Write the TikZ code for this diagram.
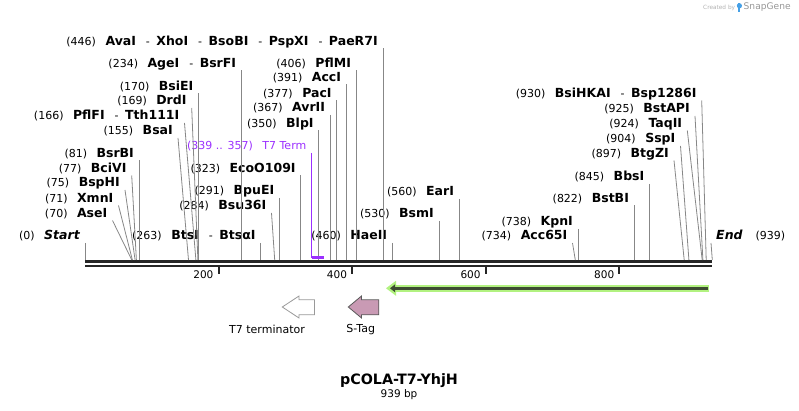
\documentclass[tikz,border=0pt]{standalone}
\usepackage{fontspec}
\setmainfont{DejaVu Sans}
\usepackage{tikz}
\usetikzlibrary{arrows.meta,positioning}
\definecolor{cutgray}{RGB}{135,135,135}
\definecolor{bbdark}{RGB}{38,38,38}
\definecolor{termpurple}{RGB}{155,48,255}
\definecolor{featlight}{RGB}{178,242,128}
\definecolor{featdark}{RGB}{62,76,50}
\definecolor{stagpink}{RGB}{201,154,180}
\definecolor{wmgray}{RGB}{178,178,178}
\definecolor{snapblue}{RGB}{70,160,230}
\newcommand{\rsname}[1]{{\fontsize{12.5}{13}\selectfont\bfseries #1}}
\newcommand{\rsgap}{\hspace{9.5pt}}
\newcommand{\rsdash}{\hspace{10pt}-\hspace{6.5pt}}
\tikzset{enz/.style={inner xsep=5pt, inner ysep=0pt, text height=9pt, text depth=3pt, anchor=south east}, cut/.style={draw=cutgray, line width=0.8pt}, axtick/.style={draw=bbdark, line width=2pt}, ticklbl/.style={inner sep=0pt, anchor=east, font=\fontsize{10.5}{12}\selectfont}}

\begin{document}
\begin{tikzpicture}[x=1pt, y=-1pt, every node/.style={font=\fontsize{11}{13}\selectfont}]
\useasboundingbox (0,0) rectangle (799,411);
% backbone
\coordinate (bbL) at (85,261.8);
\coordinate (bbR) at (712.3,261.8);
\coordinate (bbL2) at (85,266);
\coordinate (bbR2) at (712.3,266);
\draw[line width=3pt, bbdark] (bbL) -- (bbR);
\draw[line width=2.5pt, bbdark] (bbL2) -- (bbR2);
% ruler
\draw[axtick] (218.6,267) -- (218.6,274.3);
\draw[axtick] (352.2,267) -- (352.2,274.3);
\draw[axtick] (485.8,267) -- (485.8,274.3);
\draw[axtick] (619.4,267) -- (619.4,274.3);
\node[ticklbl] (n200) at (213.6,275) {200};
\node[ticklbl] (n400) at (347.2,275) {400};
\node[ticklbl] (n600) at (480.8,275) {600};
\node[ticklbl] (n800) at (614.4,275) {800};
% cut sites on the backbone
\coordinate (s0) at (85,260);
\coordinate (s70) at (131.8,260);
\coordinate (s71) at (132.4,260);
\coordinate (s75) at (135.1,260);
\coordinate (s77) at (136.4,260);
\coordinate (s81) at (139.1,260);
\coordinate (s155) at (188.5,260);
\coordinate (s166) at (195.9,260);
\coordinate (s169) at (197.9,260);
\coordinate (s170) at (198.6,260);
\coordinate (s234) at (241.3,260);
\coordinate (s263) at (260.7,260);
\coordinate (s284) at (274.7,260);
\coordinate (s291) at (279.4,260);
\coordinate (s323) at (300.8,260);
\coordinate (s350) at (318.8,260);
\coordinate (s367) at (330.2,260);
\coordinate (s377) at (336.8,260);
\coordinate (s391) at (346.2,260);
\coordinate (s406) at (356.2,260);
\coordinate (s446) at (382.9,260);
\coordinate (s460) at (392.3,260);
\coordinate (s530) at (439.0,260);
\coordinate (s560) at (459.1,260);
\coordinate (s734) at (575.3,260);
\coordinate (s738) at (578.0,260);
\coordinate (s822) at (634.1,260);
\coordinate (s845) at (649.5,260);
\coordinate (s897) at (684.2,260);
\coordinate (s904) at (688.9,260);
\coordinate (s924) at (702.2,260);
\coordinate (s925) at (702.9,260);
\coordinate (s930) at (706.2,260);
\coordinate (s939) at (712.3,260);
% enzyme labels, left half
\node[enz] (avaI) at (382.9,48.5) {(446)\rsgap\rsname{AvaI}\rsdash\rsname{XhoI}\rsdash\rsname{BsoBI}\rsdash\rsname{PspXI}\rsdash\rsname{PaeR7I}};
\node[enz] (ageI) at (241.3,70.5) {(234)\rsgap\rsname{AgeI}\rsdash\rsname{BsrFI}};
\node[enz] (pflMI) at (356.2,70.5) {(406)\rsgap\rsname{PflMI}};
\node[enz] (accI) at (346.2,84.5) {(391)\rsgap\rsname{AccI}};
\node[enz] (bsiEI) at (198.6,93.5) {(170)\rsgap\rsname{BsiEI}};
\node[enz] (pacI) at (336.8,100.5) {(377)\rsgap\rsname{PacI}};
\node[enz] (drdI) at (191.7,108) {(169)\rsgap\rsname{DrdI}};
\node[enz] (avrII) at (330.2,115) {(367)\rsgap\rsname{AvrII}};
\node[enz] (pflFI) at (184.5,123) {(166)\rsgap\rsname{PflFI}\rsdash\rsname{Tth111I}};
\node[enz] (blpI) at (318.8,130.5) {(350)\rsgap\rsname{BlpI}};
\node[enz] (bsaI) at (178,138) {(155)\rsgap\rsname{BsaI}};
\node[enz, text=termpurple] (t7term) at (311.5,153) {(339 .. 357)\rsgap T7 Term};
\node[enz] (bsrBI) at (139.1,160.5) {(81)\rsgap\rsname{BsrBI}};
\node[enz] (bciVI) at (131.7,175.5) {(77)\rsgap\rsname{BciVI}};
\node[enz] (ecoO109I) at (300.8,175.5) {(323)\rsgap\rsname{EcoO109I}};
\node[enz] (bspHI) at (125,190) {(75)\rsgap\rsname{BspHI}};
\node[enz] (bpuEI) at (279.4,198) {(291)\rsgap\rsname{BpuEI}};
\node[enz] (xmnI) at (118.5,205.5) {(71)\rsgap\rsname{XmnI}};
\node[enz] (bsu36I) at (271.5,213) {(284)\rsgap\rsname{Bsu36I}};
\node[enz] (aseI) at (112.5,220.5) {(70)\rsgap\rsname{AseI}};
\node[enz] (start) at (85,243) {(0)\rsgap\rsname{\itshape Start}};
\node[enz] (btsI) at (260.7,243) {(263)\rsgap\rsname{BtsI}\rsdash\rsname{BtsαI}};
\node[enz] (haeII) at (392.3,243) {(460)\rsgap\rsname{HaeII}};
% enzyme labels, right half
\node[enz] (earI) at (459.1,199) {(560)\rsgap\rsname{EarI}};
\node[enz] (bsmI) at (439.0,221) {(530)\rsgap\rsname{BsmI}};
\node[enz] (kpnI) at (578.0,229) {(738)\rsgap\rsname{KpnI}};
\node[enz] (acc65I) at (572.5,243) {(734)\rsgap\rsname{Acc65I}};
\node[enz] (bstBI) at (634.1,205.5) {(822)\rsgap\rsname{BstBI}};
\node[enz] (bbsI) at (649.5,184) {(845)\rsgap\rsname{BbsI}};
\node[enz] (btgZI) at (674,160.5) {(897)\rsgap\rsname{BtgZI}};
\node[enz] (sspI) at (680.5,146) {(904)\rsgap\rsname{SspI}};
\node[enz] (taqII) at (687.3,130.5) {(924)\rsgap\rsname{TaqII}};
\node[enz] (bstAPI) at (695,116) {(925)\rsgap\rsname{BstAPI}};
\node[enz] (bsiHKAI) at (701.7,100.5) {(930)\rsgap\rsname{BsiHKAI}\rsdash\rsname{Bsp1286I}};
\node[enz, anchor=south west] (endlbl) at (711,243) {\rsname{\itshape End}\hspace{13pt}(939)};
% cut lines
\draw[cut] (avaI.south east) -- (s446);
\draw[cut] (ageI.south east) -- (s234);
\draw[cut] (pflMI.south east) -- (s406);
\draw[cut] (accI.south east) -- (s391);
\draw[cut] (bsiEI.south east) -- (s170);
\draw[cut] (pacI.south east) -- (s377);
\draw[cut] (drdI.south east) -- (s169);
\draw[cut] (avrII.south east) -- (s367);
\draw[cut] (pflFI.south east) -- (s166);
\draw[cut] (blpI.south east) -- (s350);
\draw[cut] (bsaI.south east) -- (s155);
\draw[cut] (bsrBI.south east) -- (s81);
\draw[cut] (bciVI.south east) -- (s77);
\draw[cut] (ecoO109I.south east) -- (s323);
\draw[cut] (bspHI.south east) -- (s75);
\draw[cut] (bpuEI.south east) -- (s291);
\draw[cut] (xmnI.south east) -- (s71);
\draw[cut] (bsu36I.south east) -- (s284);
\draw[cut] (aseI.south east) -- (s70);
\draw[cut] (start.south east) -- (s0);
\draw[cut] (btsI.south east) -- (s263);
\draw[cut] (haeII.south east) -- (s460);
\draw[cut] (earI.south east) -- (s560);
\draw[cut] (bsmI.south east) -- (s530);
\draw[cut] (kpnI.south east) -- (s738);
\draw[cut] (acc65I.south east) -- (s734);
\draw[cut] (bstBI.south east) -- (s822);
\draw[cut] (bbsI.south east) -- (s845);
\draw[cut] (btgZI.south east) -- (s897);
\draw[cut] (sspI.south east) -- (s904);
\draw[cut] (taqII.south east) -- (s924);
\draw[cut] (bstAPI.south east) -- (s925);
\draw[cut] (bsiHKAI.south east) -- (s930);
\draw[cut] (endlbl.south west) -- (s939);
% T7 terminator span
\coordinate (t7a) at (311.5,257.6);
\coordinate (t7b) at (323.5,257.6);
\draw[termpurple, line width=1pt] (t7term.south east) -- (t7a);
\draw[termpurple, line width=2.5pt] (t7a) -- (t7b);
% green feature
\coordinate (gR) at (709.3,288.3);
\coordinate (gL) at (386,288.3);
\draw[line width=7.5pt, featlight] (gR) -- ([xshift=8pt]gL);
\fill[featlight] (gL) -- ++(10,-7.5) -- ++(0,15) -- cycle;
\draw[line width=2.8pt, featdark, -{Triangle[length=5pt,width=7.5pt]}] ([xshift=-1.6pt]gR) -- ([xshift=4pt]gL);
% features
\draw[draw=gray!80, fill=white, line width=0.8pt] (282.3,307) -- (299,296) -- (299,299.8) -- (314.5,299.8) -- (314.5,314.8) -- (299,314.8) -- (299,318) -- cycle;
\draw[draw=black!65, fill=stagpink, line width=0.8pt] (348.3,307) -- (361.5,296) -- (361.5,299.8) -- (378.8,299.8) -- (378.8,314.8) -- (361.5,314.8) -- (361.5,318) -- cycle;
\node (t7lbl) at (267,329.5) {T7 terminator};
\node (staglbl) at (360.7,329.5) {S-Tag};
% title
\node[font=\fontsize{14.3}{16}\selectfont\bfseries] (title) at (399,380.5) {pCOLA-T7-YhjH};
\node[font=\fontsize{10.5}{12}\selectfont] (size) at (399,395) {939 bp};
% watermark
\node[text=wmgray, font=\fontsize{5.8}{7}\selectfont, anchor=west, inner sep=0pt] (created) at (703,7.5) {Created by};
\fill[snapblue] (737.6,3) rectangle (739.8,12.5);
\fill[snapblue] (739.4,5.8) circle (2.6);
\node[text=wmgray!85!black, font=\fontsize{9.1}{11}\selectfont, anchor=west, inner sep=0pt] (snapgene) at (743.5,7.5) {SnapGene};
\end{tikzpicture}
\end{document}
